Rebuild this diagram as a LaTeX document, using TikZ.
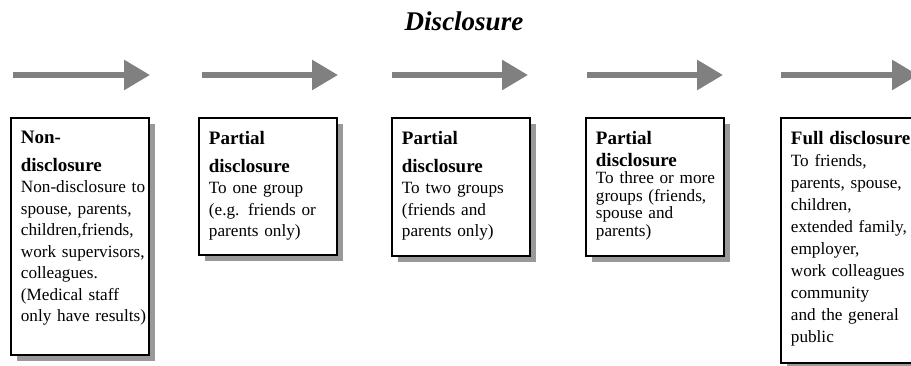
\documentclass[tikz,border=0pt]{standalone}
\usepackage{fontspec}
\setmainfont{Liberation Serif}
\usepackage{tikz}
\usetikzlibrary{arrows.meta,shadows}
\definecolor{ArrowGray}{HTML}{808080}
\definecolor{ShadowGray}{HTML}{999999}
\newcommand{\stagehead}[2][28]{{\fontsize{19}{#1}\selectfont\bfseries #2\par}}
\newcommand{\stagefoot}[1]{\rule[-#1pt]{0pt}{#1pt}}

\begin{document}
\begin{tikzpicture}[x=1pt,y=1pt,
                    stagebox/.style={draw, line width=1.8pt, fill=white, anchor=north west,
                                     text width=118pt, inner xsep=10pt, inner ysep=13pt, align=left,
                                     font=\fontsize{17.2}{21.5}\selectfont,
                                     execute at begin node={\rightskip=-12pt plus 1fil\relax},
                                     drop shadow={shadow xshift=6pt, shadow yshift=-6pt,
                                                  fill=ShadowGray, opacity=1}},
                    ar/.style={-{Triangle[length=26pt,width=29pt]}, line width=6pt, ArrowGray}]
  \clip (0,0) rectangle (911,-366);
  \node[font=\fontsize{27}{32}\selectfont\bfseries\itshape, anchor=base]
    (title) at (464,-31) {Disclosure};
  % stage arrows
  \coordinate (arr1s) at (13,-75);  \coordinate (arr1e) at (150,-75);
  \coordinate (arr2s) at (202,-75); \coordinate (arr2e) at (338,-75);
  \coordinate (arr3s) at (392,-75); \coordinate (arr3e) at (528,-75);
  \coordinate (arr4s) at (587,-75); \coordinate (arr4e) at (723,-75);
  \coordinate (arr5s) at (781,-75); \coordinate (arr5e) at (918,-75);
  \draw[ar] (arr1s) -- (arr1e); \draw[ar] (arr2s) -- (arr2e);
  \draw[ar] (arr3s) -- (arr3e); \draw[ar] (arr4s) -- (arr4e);
  \draw[ar] (arr5s) -- (arr5e);
  % stage boxes
  \node[stagebox] (s1) at (10,-117)
    {\stagehead{Non-\\disclosure}
     Non-disclosure to\\ spouse, parents,\\ children,friends,\\
     work supervisors,\\ colleagues.\\ (Medical staff\\
     only have results)\stagefoot{20.5}};
  \node[stagebox] (s2) at (198,-117)
    {\stagehead{Partial\\disclosure}
     To one group\\ (e.g. friends or\\ parents only)\stagefoot{5.5}};
  \node[stagebox] (s3) at (391,-117)
    {\stagehead{Partial\\disclosure}
     To two groups\\ (friends and\\ parents only)\stagefoot{6.5}};
  \node[stagebox, font=\fontsize{17.2}{17.5}\selectfont] (s4) at (585,-117)
    {\stagehead[22]{Partial\\disclosure}
     To three or more\\ groups (friends,\\ spouse and\\ parents)\stagefoot{7}};
  \node[stagebox, font=\fontsize{17.2}{22}\selectfont] (s5) at (780,-117)
    {\stagehead{Full disclosure}
     To friends,\\ parents, spouse,\\ children,\\ extended family,\\
     employer,\\ work colleagues\\ community\\ and the general\\
     public\stagefoot{8}};
\end{tikzpicture}
\end{document}
